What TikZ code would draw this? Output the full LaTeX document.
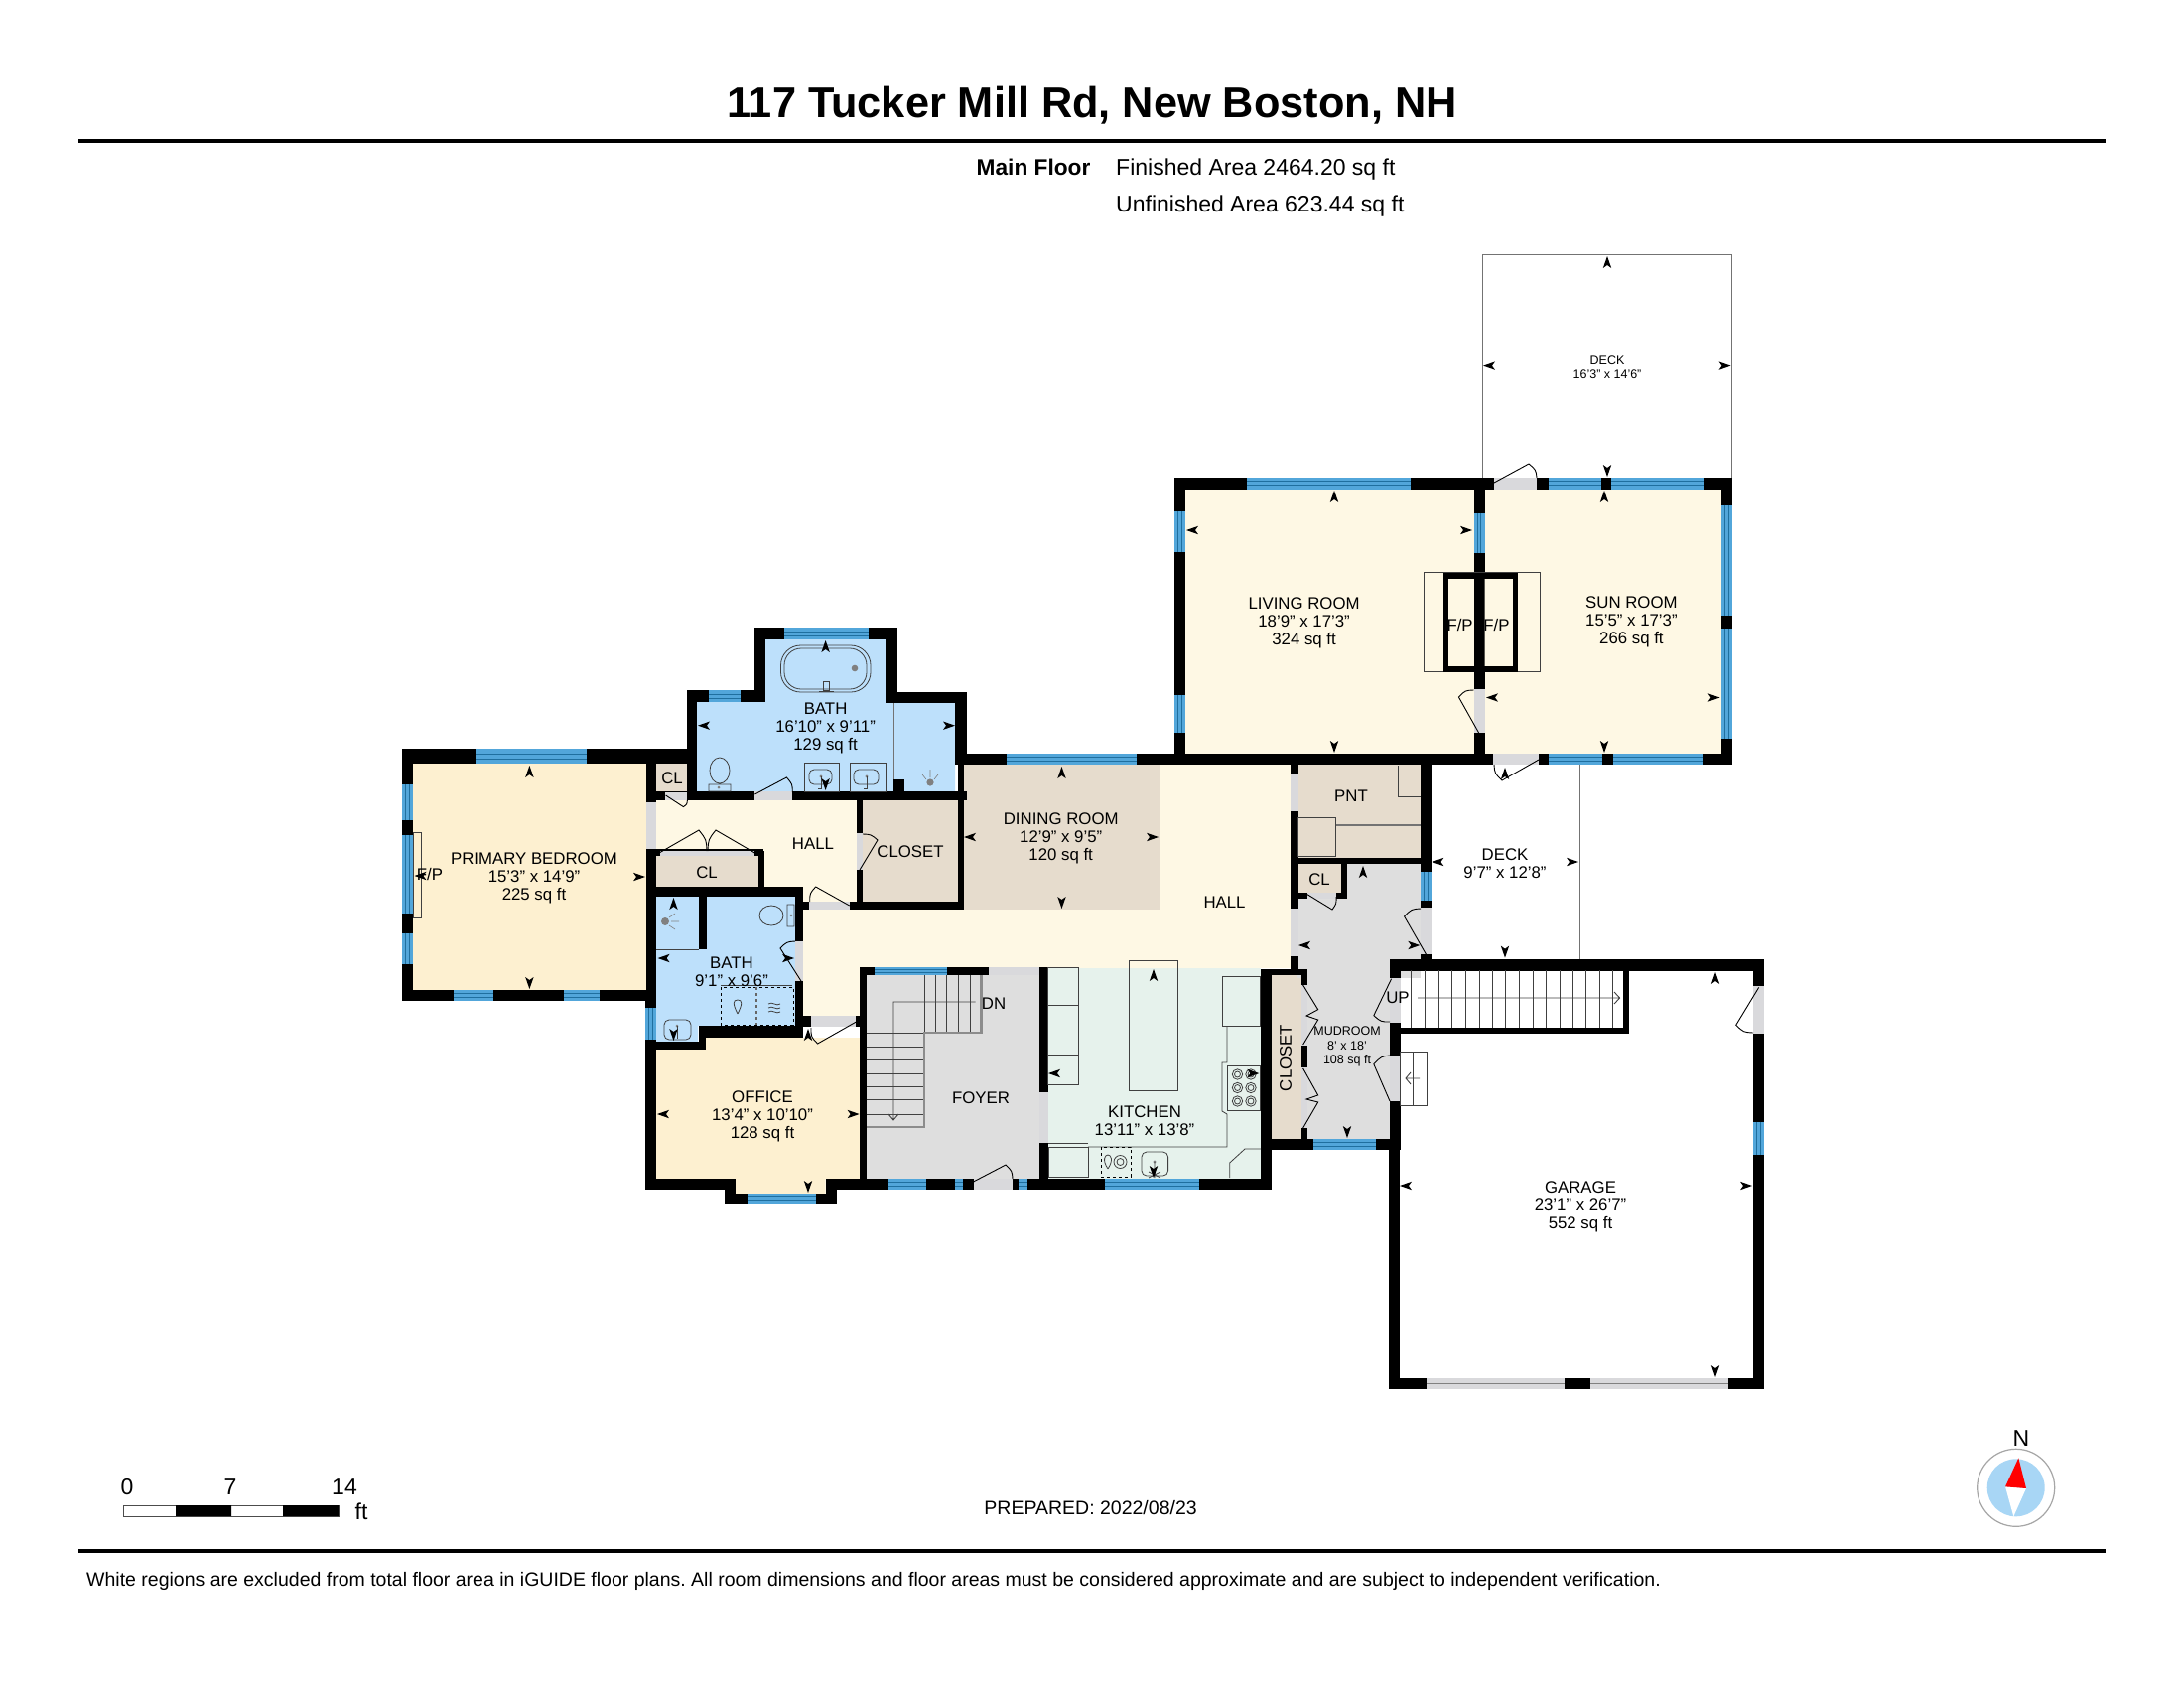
\documentclass[tikz,border=0pt]{standalone}
\usepackage{fontspec}
\setmainfont{Liberation Sans}
\frenchspacing
\definecolor{bedfill}{HTML}{FDF0D0}
\definecolor{hallfill}{HTML}{FEF8E4}
\definecolor{bathfill}{HTML}{BDE0FB}
\definecolor{tanfill}{HTML}{E6DCCD}
\definecolor{greyfill}{HTML}{DEDEDE}
\definecolor{kitfill}{HTML}{E6F2EC}
\definecolor{winblue}{HTML}{52A6DA}
\definecolor{winline}{HTML}{1F6F9F}
\definecolor{doorgrey}{HTML}{D9D9DC}
\definecolor{compblue}{HTML}{A8D6F5}
% windows: x1 y1 x2 y2
\newcommand{\hwin}[4]{\fill[winblue] (#1,#2) rectangle (#3,#4);
	\draw[winline,line width=0.9pt] (#1,{#2+(#4-#2)/3}) -- (#3,{#2+(#4-#2)/3}) (#1,{#2+2*(#4-#2)/3}) -- (#3,{#2+2*(#4-#2)/3});}
\newcommand{\vwin}[4]{\fill[winblue] (#1,#2) rectangle (#3,#4);
	\draw[winline,line width=0.9pt] ({#1+(#3-#1)/3},#2) -- ({#1+(#3-#1)/3},#4) ({#1+2*(#3-#1)/3},#2) -- ({#1+2*(#3-#1)/3},#4);}
% door leaf: hinge, free end, jamb
\newcommand{\doorleaf}[6]{\draw[black,line width=0.9pt] (#1,#2) -- (#3,#4) .. controls ({#1+1.08*((#3+#5)/2-#1)},{#2+1.08*((#4+#6)/2-#2)}) .. (#5,#6);}
% dimension tick: centre and direction
\newcommand{\dimtick}[4]{\fill[black] ({#1+6*#3},{#2+6*#4}) -- ({#1-6*#3-4.2*#4},{#2-6*#4-4.2*#3}) -- ({#1-3*#3},{#2-3*#4}) -- ({#1-6*#3+4.2*#4},{#2-6*#4+4.2*#3}) -- cycle;}
\newcommand{\basin}[4]{\draw[fixture,rounded corners=5pt] (#1,#2) rectangle (#3,#4);}
\begin{document}
\begin{tikzpicture}[x=1pt,y=-1pt]
	\tikzstyle{roomtxt} = [inner sep=0pt, align=center, yshift=-1.5pt, font=\fontsize{16.8}{18}\selectfont]
	\tikzstyle{smalltxt} = [inner sep=0pt, align=center, font=\fontsize{12.5}{14.5}\selectfont]
	\tikzstyle{infotxt} = [inner sep=0pt, font=\fontsize{23}{26}\selectfont]
	\tikzstyle{fixture} = [draw=black!75, line width=0.8pt]
	\tikzstyle{thingrey} = [draw=black!55, line width=1pt]
	\useasboundingbox (0,0) rectangle (2200,1700);
	\fill[white] (0,0) rectangle (2200,1700);

	% header
	\node[inner sep=0pt, font=\fontsize{43.3}{48}\selectfont\bfseries] (title) at (1100,106.5) {117 Tucker Mill Rd, New Boston, NH};
	\fill[black] (79,140) rectangle (2121,143.5);
	\node[infotxt, anchor=base east, font=\fontsize{22.7}{26}\selectfont\bfseries] (floorname) at (1098.6,176.5) {Main Floor};
	\node[infotxt, anchor=base west] (finished) at (1124,176.5) {Finished Area 2464.20 sq ft};
	\node[infotxt, anchor=base west] (unfinished) at (1124,213) {Unfinished Area 623.44 sq ft};

	% room fills
	\fill[bedfill] (416,769) rectangle (651,997);
	\fill[bedfill] (661,1057) -- (711,1057) -- (711,1045) -- (866,1045) -- (866,1187) -- (831.6,1187) -- (831.6,1202) -- (740.6,1202) -- (740.6,1187) -- (661,1187) -- cycle;
	\fill[hallfill] (661,806) rectangle (863,893);
	\fill[hallfill] (769,893) rectangle (863,910);
	\fill[hallfill] (809,916) rectangle (866,1034);
	\fill[hallfill] (809,916) rectangle (1300,975);
	\fill[hallfill] (970,770) rectangle (1300,916);
	\fill[hallfill] (1194,492) rectangle (1734,759);
	\fill[bathfill] (771,644) -- (892,644) -- (892,708) -- (962,708) -- (962,797) -- (702,797) -- (702,707) -- (771,707) -- cycle;
	\fill[bathfill] (661,903) -- (801,903) -- (801,1033) -- (703,1033) -- (703,1049) -- (661,1049) -- cycle;
	\fill[tanfill] (661,766) rectangle (694,797);
	\fill[tanfill] (661,862) rectangle (763.5,893);
	\fill[tanfill] (869,806) rectangle (965,908);
	\fill[tanfill] (970.6,770) rectangle (1167.5,916);
	\fill[tanfill] (1307.5,770) rectangle (1431,864);
	\fill[tanfill] (1307.5,869) rectangle (1351.4,899);
	\fill[tanfill] (1279.4,982) rectangle (1310.6,1147);
	\fill[greyfill] (872,982) rectangle (1047,1187);
	\fill[greyfill] (1307,905) rectangle (1431,985);
	\fill[greyfill] (1357,869) rectangle (1431,905);
	\fill[greyfill] (1316,976) rectangle (1401,1147);
	\fill[kitfill] (1055.6,975) rectangle (1270,1187);

	% decks and thin outlines
	\draw[thingrey] (1493.6,482) -- (1493.6,256.8) -- (1744.6,256.8) -- (1744.6,482);
	\draw[thingrey] (1591,770) -- (1591,966);
	\draw[thingrey] (900,708) -- (900,785);

	% walls
	\foreach \xa/\ya/\xb/\yb in {404.5/754/702/769, 404.5/754/416/1008, 404.5/997/661/1008, 651/754/661/1008, 650/1008/661/1198,
		692/695/702/806, 692/695/771/707, 760/632/771/707, 760/632/904/644, 892/632/904/708, 892/697/974/708, 962.4/697/974/770,
		661/797/974/806, 900/785/911/797, 965/770/971/916, 863/806/869/916, 856/908/971/916, 661/893/809/903, 801/893/809/1045,
		801/908/856/916, 763.5/857/769.5/893, 651/855/769/862, 704/903/712/956, 703.5/1033/809/1045, 703.5/1033/711/1057,
		650/1049/711/1057, 801/1023/872/1034, 866/974/872.5/1198, 650/1187/740/1198, 730/1187/740.6/1213, 730/1202/843/1213,
		831.6/1187/842.6/1213, 832/1187/1281/1198, 866/974/1047/982, 1047/974/1055.6/1198, 1270/976/1281/1198, 1270/976/1316.6/982,
		1310.6/976/1316.6/1147, 1270/1147/1411/1158, 962/759/1505/770, 1183/481/1745/492.5, 1183/481/1194/770, 1484.5/481/1495.5/770,
		1733.6/481/1744.6/770, 1484/758.6/1744.6/770, 1300/770/1307.5/976, 1431/770/1442/968, 1300/864/1431/869.5, 1351/869/1357/905,
		1307/899/1357/905, 1401/966/1777/977.6, 1400/966/1411/1147, 1398.6/1147/1410/1399, 1766/966/1777/1399, 1398.6/1388/1777/1399,
		1635/966/1641/1041, 1410/1035/1641/1041}
		\fill[black] (\xa,\ya) rectangle (\xb,\yb);

	% windows
	\hwin{479}{754}{591}{769} \hwin{457}{997}{497.4}{1008} \hwin{568}{997}{604}{1008}
	\vwin{404.5}{790}{416}{826} \vwin{404.5}{841.4}{416}{920} \vwin{404.5}{939.5}{416}{971}
	\hwin{790}{632}{875}{644} \hwin{714}{695}{746}{707} \vwin{650}{1015}{661}{1047} \hwin{752.5}{1202}{822}{1213}
	\hwin{881}{974}{953.6}{982} \hwin{894.7}{1187}{933}{1198} \hwin{961.5}{1187}{970}{1198} \hwin{1026}{1187}{1035}{1198}
	\hwin{1112.5}{1187}{1207.5}{1198} \hwin{1014}{759}{1145}{770} \hwin{1256}{481}{1421}{492.5}
	\hwin{1560}{481}{1613}{492.5} \hwin{1623}{481}{1716}{492.5} \hwin{1560}{758.6}{1614}{770} \hwin{1625}{758.6}{1715}{770}
	\vwin{1183}{515}{1194}{556} \vwin{1183}{700}{1194}{738} \vwin{1484.5}{517}{1495.5}{557}
	\vwin{1733.6}{508.6}{1744.6}{620} \vwin{1733.6}{633}{1744.6}{743.6}
	\vwin{1431}{878}{1442}{907} \hwin{1323}{1147}{1386}{1158} \vwin{1766}{1129.5}{1777}{1163}

	% door openings
	\foreach \xa/\ya/\xb/\yb in {651/808/661/855, 670/798/692/806, 760/797/798/806, 665/856.5/760/862, 863/839/869/876, 815/908/856/916,
		801/948/809/988, 817/1023/862/1034, 996/974/1047/982, 980.5/1187/1020/1198, 1047/1100/1055.6/1151, 1300/780/1307.5/817,
		1300/915/1307.5/963, 1317/899/1346/905, 1431/914/1442/961, 1310.6/992/1316.6/1053, 1310.6/1075/1316.6/1136, 1400/985/1411/1030,
		1400/1063/1411/1109, 1505/481/1548/492.5, 1504/758.6/1550/770, 1484.5/694/1495.5/738, 1766/993/1777/1041,
		1437/1388/1576/1399, 1602/1388/1741/1399}
		\fill[doorgrey] (\xa,\ya) rectangle (\xb,\yb);
	\draw[black!50, line width=0.8pt] (1437,1393.5) -- (1576,1393.5) (1602,1393.5) -- (1741,1393.5);

	% door leaves
	\doorleaf{760.4}{800}{792.4}{783}{798.3}{798}
	\doorleaf{670.6}{801}{688.4}{812.6}{692.4}{806}
	\doorleaf{664}{859}{704}{836}{712}{857}
	\doorleaf{760.4}{859}{721}{836}{713}{857}
	\doorleaf{866}{876}{884}{846}{869}{840}
	\doorleaf{855.7}{912}{821.7}{893}{815.7}{908}
	\doorleaf{807}{988}{786}{955}{801}{948}
	\doorleaf{862.4}{1029}{823.6}{1051}{817}{1035}
	\doorleaf{980.5}{1190}{1013}{1173}{1020}{1187}
	\doorleaf{1489.6}{738}{1469.4}{702}{1484.5}{695}
	\doorleaf{1505}{486}{1540}{467}{1548}{481}
	\doorleaf{1550}{765}{1513}{786}{1505}{770}
	\doorleaf{1317}{900.7}{1342}{916}{1346}{903}
	\doorleaf{1436.4}{961}{1414.6}{923}{1431}{915}
	\doorleaf{1401.6}{985.7}{1383.8}{1022.7}{1400}{1029}
	\doorleaf{1400}{1109}{1383.8}{1071.7}{1400}{1063}
	\doorleaf{1771.7}{994.4}{1748.7}{1032.3}{1766}{1040}
	\draw[black,line width=0.9pt] (1312.6,992) -- (1327.7,1016.7) -- (1316,1023) -- (1327.7,1027) -- (1312.6,1052);
	\draw[black,line width=0.9pt] (1312.6,1076) -- (1327.7,1103) -- (1316,1107) -- (1327.7,1110) -- (1312.6,1136);

	% fireplaces
	\draw[fixture] (1434.6,576.4) rectangle (1551.7,676.4);
	\fill[hallfill] (1456.5,580) rectangle (1484.5,674) (1495.5,580) rectangle (1526.5,674);
	\draw[black,line width=5.5pt] (1456.5,580) rectangle (1526.5,674);
	\draw[fixture] (416,838) rectangle (424.7,924);

	% bath fixtures
	\draw[fixture,rounded corners=20pt] (786.5,650) rectangle (877,697);
	\draw[fixture,rounded corners=17pt] (790,653) rectangle (873,694);
	\fill[gray] (861,673) circle (3.3);
	\draw[fixture] (829,695) rectangle (835,686) (825,696) -- (840,696);
	\draw[fixture] (725,776) ellipse (10 and 13) (714,790) rectangle (736,797);
	\fill[gray] (724,793) circle (1.5);
	\draw[fixture] (810,768) rectangle (845,797) (856,768) rectangle (892,797);
	\basin{815}{775}{838}{790} \basin{860}{775}{885}{790}
	\fill[gray] (827,782) circle (1.7) (873,782) circle (1.7);
	\draw[fixture] (827,782) -- (827,794) -- (824,794) (873,782) -- (873,794) -- (870,794);
	\draw[gray,line width=0.6pt] (937,775) -- (937,783) (929,780) -- (933,785) (945,780) -- (941,785);
	\fill[gray] (937,788) circle (3.6);
	\draw[fixture] (777,922) ellipse (12 and 10) (793,911) rectangle (800,933);
	\fill[gray] (797,922) circle (1.3);
	\fill[gray] (670,928) circle (4);
	\draw[gray,line width=0.6pt] (676,928) -- (684,928) (674,924) -- (680,920) (674,932) -- (680,936);
	\draw[fixture] (661,956) -- (704,956);
	\draw[fixture] (726,992) -- (798,992);
	\draw[black,line width=0.9pt,dashed] (726,994) rectangle (799,1032);
	\draw[black!60,line width=2pt,dashed] (762,994) -- (762,1032);
	\draw[fixture] (743,1021) .. controls (738,1011) and (738,1007) .. (743,1007) .. controls (748,1007) and (748,1011) .. (743,1021);
	\draw[fixture] (774,1011) .. controls (778,1008) and (782,1014) .. (786,1011) (774,1015) .. controls (778,1012) and (782,1018) .. (786,1015) (774,1019) .. controls (778,1016) and (782,1022) .. (786,1019);
	\basin{669}{1027}{696}{1047}
	\fill[gray] (682,1033) circle (1.5);
	\draw[fixture] (682,1033) -- (682,1046);

	% stairs to basement
	\foreach \sx in {931,942,953.6,965.5,977.7}
		\draw[black!75,line width=0.9pt] (\sx,982) -- (\sx,1040);
	\foreach \sy in {1040.7,1054,1067,1081,1094,1107,1122}
		\draw[black!75,line width=0.9pt] (872.5,\sy) -- (931,\sy);
	\draw[black!45,line width=2.5pt] (988.4,982) -- (988.4,1040) -- (931,1040) -- (931,1135) -- (872.5,1135);
	\draw[black!75,line width=0.9pt] (982.5,1009) -- (900,1009) -- (900,1128) (895,1122) -- (900,1128) -- (905,1122);

	% kitchen fixtures
	\draw[fixture] (1055.6,974) rectangle (1086.5,1092) (1055.6,1012) -- (1086.5,1012) (1055.6,1062) -- (1086.5,1062);
	\draw[fixture] (1137,967) rectangle (1186.5,1098);
	\draw[fixture] (1231.6,983) rectangle (1269,1033);
	\draw[fixture] (1236,1033) -- (1236,1070) -- (1231,1070) -- (1231,1119) -- (1236,1122) -- (1236,1155) -- (1096,1155);
	\draw[fixture] (1236.7,1073) rectangle (1269,1118);
	\foreach \bx in {1246.5,1260}
		\foreach \by in {1082,1095.5,1109}
			\draw[fixture] (\bx,\by) circle (5.2) (\bx,\by) circle (3);
	\draw[fixture] (1056,1155) rectangle (1096,1185);
	\draw[fixture] (1096,1151) -- (1056,1151);
	\draw[black,line width=0.9pt,dashed] (1109,1155) rectangle (1139,1185);
	\draw[fixture] (1128.5,1170) circle (6.5) (1128.5,1170) circle (3.5);
	\draw[fixture] (1116,1177) .. controls (1110,1168) and (1113,1163) .. (1116,1163) .. controls (1119,1163) and (1122,1168) .. (1116,1177);
	\basin{1150}{1160}{1176.6}{1184}
	\fill[gray] (1163,1170) circle (1.7);
	\draw[fixture] (1163,1170) -- (1163,1186) (1157,1180) -- (1169,1186) (1169,1180) -- (1157,1186);
	\draw[fixture] (1238.7,1186) -- (1238.7,1171) -- (1254,1157) -- (1270,1157);

	% pantry fixtures
	\draw[fixture] (1408,771) -- (1408,802) -- (1431,802);
	\draw[fixture] (1307.5,823) rectangle (1345.5,862);
	\draw[black!55,line width=1.2pt] (1345.5,831) -- (1431,831);

	% stairs up and landing
	\foreach \sx in {1421.5,1435,1449,1462.5,1476,1490,1503,1516.6,1530,1544,1557,1571,1584,1597.5,1611,1624}
		\draw[black!75,line width=0.9pt] (\sx,977) -- (\sx,1035);
	\draw[black!75,line width=0.9pt] (1428,1005) -- (1631.6,1005) (1626,999) -- (1631.6,1005) -- (1626,1011);
	\draw[fixture] (1410,1059) rectangle (1437,1113.5) (1423,1059) -- (1423,1113.5);
	\draw[black!75,line width=0.9pt] (1430,1086) -- (1416,1086) (1421,1080) -- (1416,1086) -- (1421,1092);

	% dimension ticks
	\foreach \x/\y in {1344/500, 1616/500, 1619/264, 1516/779, 1373/878, 1728/985, 1069.5/778, 1162/982, 533.4/777, 831.6/651, 678.5/910, 814/1042}
		{\dimtick{\x}{\y}{0}{-1}}
	\foreach \x/\y in {1344/752, 1616/752, 1619/474, 1516/958.6, 1357/1140, 1728/1381, 1069.5/909, 1162/1180, 533.4/990, 831.6/790, 678.5/1042, 814/1195}
		{\dimtick{\x}{\y}{0}{1}}
	\foreach \x/\y in {1201/534, 1503/702.5, 1500/368.6, 1448.4/868, 1314/952, 1416/1194, 977/843, 1062/1081, 423.5/882, 709/730.7, 668.6/965, 668/1122}
		{\dimtick{\x}{\y}{-1}{0}}
	\foreach \x/\y in {1477/534, 1726.5/702.5, 1737.5/368.6, 1584/868, 1424.3/952, 1759/1194, 1161/843, 1262.4/1081, 644/883, 956/730.7, 794/965, 859.6/1122}
		{\dimtick{\x}{\y}{1}{0}}

	% room labels
	\node[roomtxt] (bedlbl) at (538,883) {PRIMARY BEDROOM\\15'3" x 14'9"\\225 sq ft};
	\node[roomtxt] (bedfp) at (433,879) {F/P};
	\node[roomtxt] (bathlbl) at (831.6,732) {BATH\\16'10" x 9'11"\\129 sq ft};
	\node[roomtxt] (cltop) at (677,782) {CL};
	\node[roomtxt] (halltop) at (819,848.5) {HALL};
	\node[roomtxt] (cllow) at (712,877) {CL};
	\node[roomtxt] (closetw) at (917,856) {CLOSET};
	\node[roomtxt] (bathtwo) at (737,977) {BATH\\9'1" x 9'6"};
	\node[roomtxt] (officelbl) at (768,1123) {OFFICE\\13'4" x 10'10"\\128 sq ft};
	\node[roomtxt] (dininglbl) at (1068.7,843) {DINING ROOM\\12'9" x 9'5"\\120 sq ft};
	\node[roomtxt] (hallmain) at (1233.5,907) {HALL};
	\node[roomtxt] (foyerlbl) at (988,1104) {FOYER};
	\node[roomtxt] (dnlbl) at (1001,1009) {DN};
	\node[roomtxt] (kitlbl) at (1153,1127.5) {KITCHEN\\13'11" x 13'8"};
	\node[roomtxt] (pntlbl) at (1361,800) {PNT};
	\node[roomtxt] (clmud) at (1329,884) {CL};
	\node[roomtxt, rotate=90] (closetk) at (1295,1064) {CLOSET};
	\node[smalltxt] (mudlbl) at (1357,1054) {MUDROOM\\8' x 18'\\108 sq ft};
	\node[roomtxt] (uplbl) at (1408,1003) {UP};
	\node[roomtxt] (decklow) at (1516,868) {DECK\\9'7" x 12'8"};
	\node[smalltxt] (decktop) at (1619,370) {DECK\\16'3" x 14'6"};
	\node[roomtxt] (livinglbl) at (1313.6,626) {LIVING ROOM\\18'9" x 17'3"\\324 sq ft};
	\node[roomtxt] (fpleft) at (1470.6,627.5) {F/P};
	\node[roomtxt] (fpright) at (1507.4,627.5) {F/P};
	\node[roomtxt] (sunlbl) at (1643.4,625) {SUN ROOM\\15'5" x 17'3"\\266 sq ft};
	\node[roomtxt] (garagelbl) at (1592,1214) {GARAGE\\23'1" x 26'7"\\552 sq ft};

	% scale bar
	\draw[black!70,line width=1pt,fill=white] (124,1516) rectangle (341,1527);
	\fill[black] (177,1516) rectangle (233,1527) (285,1516) rectangle (341,1527);
	\node[infotxt] (scalezero) at (128,1498) {0};
	\node[infotxt] (scaleseven) at (232,1498) {7};
	\node[infotxt] (scalefourteen) at (347,1498) {14};
	\node[infotxt] (scaleunit) at (364,1522) {ft};

	% prepared date and footer
	\node[infotxt, font=\fontsize{19.5}{22}\selectfont] (prepared) at (1098.6,1518.5) {PREPARED: 2022/08/23};
	\fill[black] (79,1560) rectangle (2121,1563.5);
	\node[infotxt, anchor=west, font=\fontsize{19.5}{22}\selectfont] (footnote) at (87,1592.5) {White regions are excluded from total floor area in iGUIDE floor plans. All room dimensions and floor areas must be considered approximate and are subject to independent verification.};

	% compass
	\node[infotxt] (north) at (2036,1449) {N};
	\draw[black!35,line width=1.2pt,fill=white] (2030.7,1498.3) circle (39);
	\fill[compblue] (2030.7,1498.3) circle (29);
	\fill[white] (2020,1497.3) -- (2041,1499) -- (2028.3,1527.3) -- cycle;
	\fill[red] (2033.3,1468.3) -- (2020,1497.3) -- (2041,1499) -- cycle;
\end{tikzpicture}
\end{document}
